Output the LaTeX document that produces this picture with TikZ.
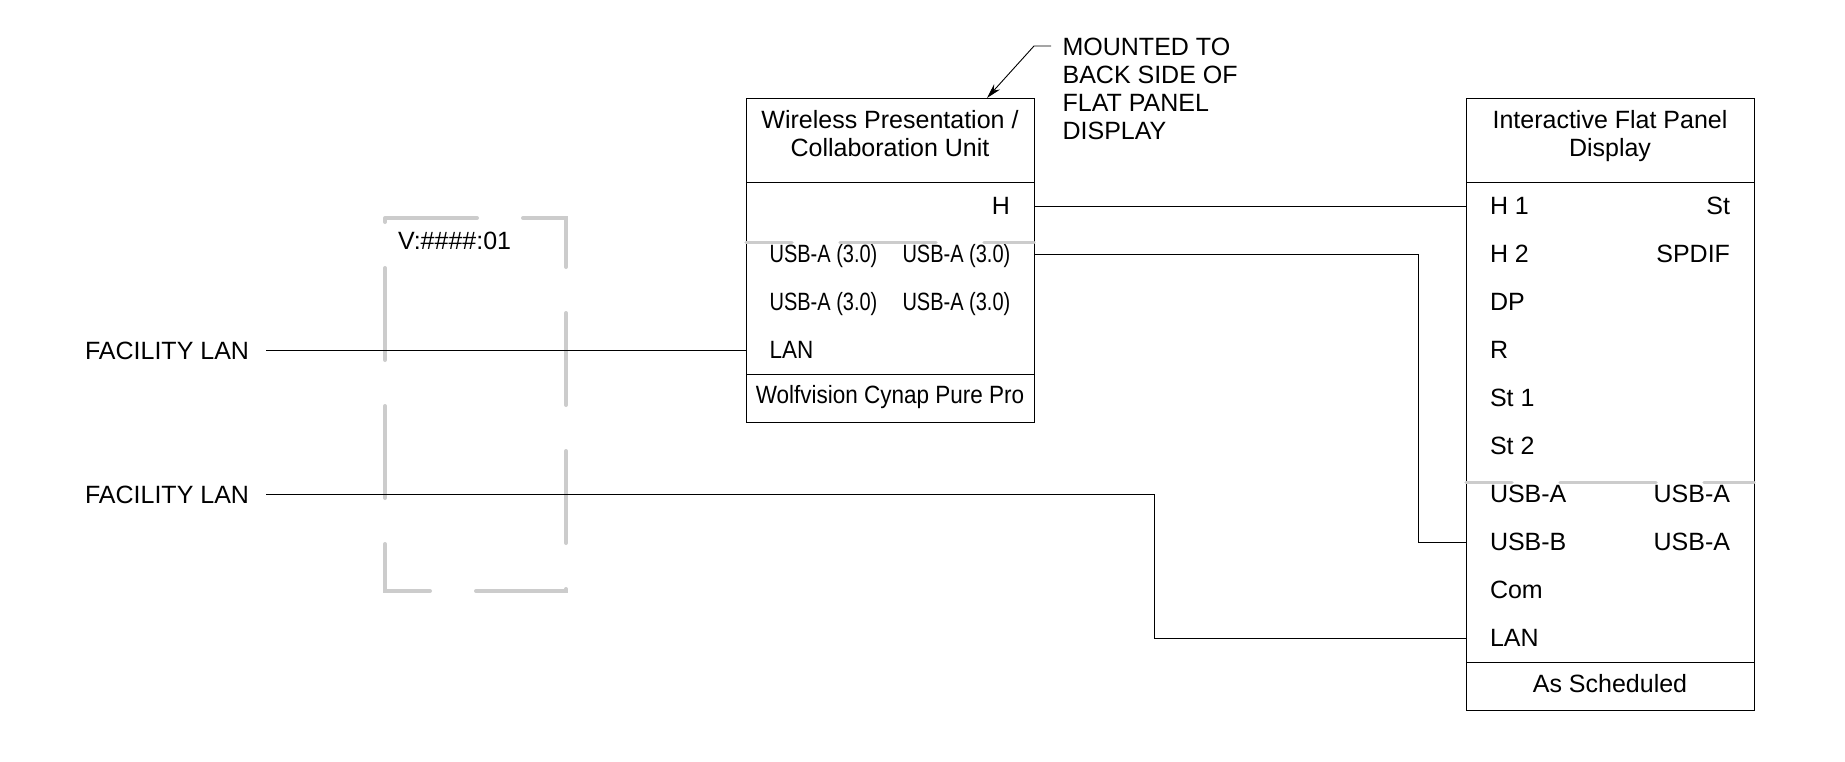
\documentclass[tikz,border=0pt]{standalone}
\usepackage{fontspec}
\setmainfont{Liberation Sans}
\usetikzlibrary{positioning,arrows.meta}
\begin{document}
\begin{tikzpicture}[
            x=1pt,y=-1pt,
            font=\fontsize{25}{28}\selectfont,
            every node/.style={outer sep=0pt},
            head/.style={rectangle,draw,line width=1pt,minimum width=288pt,minimum height=84.4pt,inner sep=0pt,align=center,text depth=13pt},
            body/.style={rectangle,draw,line width=1pt,minimum width=288pt,inner sep=0pt},
            port/.style={inner sep=0pt,text height=16pt,text depth=0pt},
            narrowport/.style={port,anchor=west,xscale=0.8,transform shape},
            wire/.style={line width=0.9pt},
            graysplit/.style={draw=black!20,line width=3.5pt,line cap=round,dash pattern=on 96pt off 48pt,dash phase=50pt}
        ]
        \useasboundingbox (0,0) rectangle (1845,761);
        \node[head,anchor=north west] (wpuhead) at (746,98) {Wireless Presentation /\\Collaboration Unit};
        \node[body,minimum height=192.4pt,below=0pt of wpuhead] (wpubody) {};
        \node[body,minimum height=47.6pt,text depth=8pt,below=0pt of wpubody] (wpufoot) {\scalebox{0.9}[1]{Wolfvision Cynap Pure Pro}};
        \node[port,anchor=east] (wpuh) at (1010,206.7) {H};
        \node[narrowport] (wpuusba) at (769.6,254.7) {USB-A (3.0)};
        \node[narrowport] (wpuusbb) at (902.5,254.7) {USB-A (3.0)};
        \node[narrowport] (wpuusbc) at (769.6,302.7) {USB-A (3.0)};
        \node[narrowport] (wpuusbd) at (902.5,302.7) {USB-A (3.0)};
        \node[port,anchor=west,xscale=0.9,transform shape] (wpulan) at (769.6,350.7) {LAN};
        \node[head,anchor=north west] (ifphead) at (1466,98) {Interactive Flat Panel\\Display};
        \node[body,minimum height=480pt,below=0pt of ifphead] (ifpbody) {};
        \node[body,minimum height=48pt,text depth=6pt,below=0pt of ifpbody] (ifpfoot) {As Scheduled};
        \node[port,anchor=west] (ifpha) at (1490,206.7) {H 1};
        \node[port,anchor=west] (ifphb) at (1490,254.7) {H 2};
        \node[port,anchor=west] (ifpdp) at (1490,302.7) {DP};
        \node[port,anchor=west] (ifpr) at (1490,350.7) {R};
        \node[port,anchor=west] (ifpsa) at (1490,398.7) {St 1};
        \node[port,anchor=west] (ifpsb) at (1490,446.7) {St 2};
        \node[port,anchor=west] (ifpusba) at (1490,494.7) {USB-A};
        \node[port,anchor=west] (ifpusbb) at (1490,542.7) {USB-B};
        \node[port,anchor=west] (ifpcom) at (1490,590.7) {Com};
        \node[port,anchor=west] (ifplan) at (1490,638.7) {LAN};
        \node[port,anchor=east] (ifpst) at (1730,206.7) {St};
        \node[port,anchor=east] (ifpspdif) at (1730,254.7) {SPDIF};
        \node[port,anchor=east] (ifpusbc) at (1730,494.7) {USB-A};
        \node[port,anchor=east] (ifpusbd) at (1730,542.7) {USB-A};
        \node[inner xsep=17pt,inner ysep=0pt,anchor=east] (lana) at (266,350.7) {FACILITY LAN};
        \node[inner xsep=17pt,inner ysep=0pt,anchor=east] (lanb) at (266,494.7) {FACILITY LAN};
        \node[inner sep=0pt,anchor=north west,align=left] (vlan) at (398,232.5) {V:\#\#\#\#:01};
        \node[inner sep=0pt,anchor=north west,align=left] (note) at (1062.6,38.5) {MOUNTED TO\\BACK SIDE OF\\FLAT PANEL\\DISPLAY};
        \coordinate (noteend) at (1051,46);
        \coordinate (noteknee) at (1034,46);
        \coordinate (notetip) at (987,98);
        \coordinate (wpusplit) at (746,242.4);
        \coordinate (ifpsplit) at (1466,482.4);
        \draw[draw=black!20,line width=4pt,line cap=round,dash pattern=on 92pt off 46pt] (385,218) -- (566,218) -- (566,591) -- (385,591) -- cycle;
        \draw[graysplit] (wpusplit) -- (wpusplit -| wpubody.east);
        \draw[graysplit] (ifpsplit) -- (ifpsplit -| ifpbody.east);
        \draw[wire] (wpubody.east |- wpuh) -- (ifpbody.west |- ifpha);
        \draw[wire] (wpubody.east |- wpuusbb) -| (1418,542.7) -- (ifpbody.west |- ifpusbb);
        \draw[wire] (lana.east) -- (wpubody.west |- wpulan);
        \draw[wire] (lanb.east) -| (1154,638.7) -- (ifpbody.west |- ifplan);
        \draw[wire,-{Stealth[length=15pt,width=8pt]}] (noteend) -- (noteknee) -- (notetip);
    \end{tikzpicture}
\end{document}
